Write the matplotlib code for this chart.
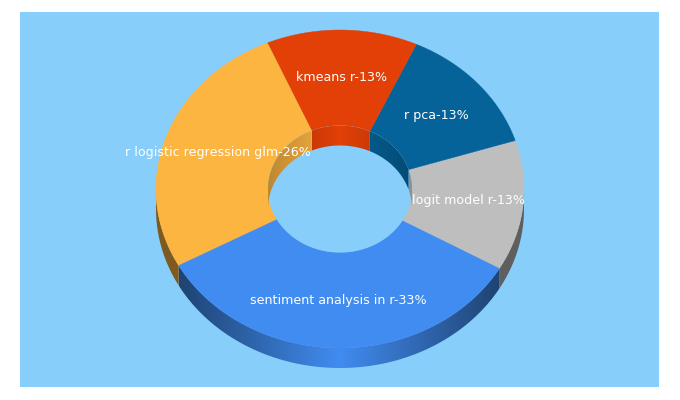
import matplotlib
matplotlib.use('Agg')
import matplotlib.pyplot as plt
from matplotlib.colors import to_rgb
from matplotlib.patches import Polygon
import numpy as np

# Donnees du graphique
labels = ['logit model r', 'r pca', 'kmeans r', 'r logistic regression glm', 'sentiment analysis in r']
values = [13, 13, 13, 26, 33]
colors = ['#bebebe', '#056399', '#e24007', '#fdb542', '#418cf0']

# Geometrie de l'anneau, en pixels
cx, cy = 340, 189
rx, ry = 184, 159
rx_in, ry_in = 72, 63.5
depth = 20
start = -30


def pt(a, rxx, ryy):
    a = np.radians(a)
    return cx + rxx * np.cos(a), cy - ryy * np.sin(a)


# Dessine un flanc avec un degrade horizontal, coupe a la forme du flanc
def wall(b0, b1, rxx, ryy, col, shade_fn, z):
    steps = np.linspace(b0, b1, 120)
    x, y = pt(steps, rxx, ryy)
    px = np.r_[x, x[::-1]]
    py = np.r_[y, y[::-1] + depth]
    grid = np.linspace(px.min(), px.max(), 200)
    f = shade_fn(grid, px.min(), px.max())
    img = np.outer(f, to_rgb(col))[None, :, :]
    im = ax.imshow(img, extent=(px.min(), px.max(), py.max(), py.min()), aspect='auto', zorder=z, interpolation='bilinear')
    im.set_clip_path(Polygon(np.c_[px, py], closed=True, transform=ax.transData))


def outer_shade(g, lo, hi):
    half = (hi - lo) / 2
    if half > 60:
        return 1 - 0.52 * np.abs(g - (lo + hi) / 2) / half
    return np.full_like(g, 0.5)


def inner_shade(g, lo, hi):
    return 1 - 0.25 * np.abs(g - cx) / rx_in


fig = plt.figure(figsize=(6.8, 4.0), dpi=100, facecolor='white')
ax = fig.add_axes([0, 0, 1, 1])
ax.axis('off')
ax.fill([20, 659, 659, 20], [12, 12, 387, 387], color='#87cefa', lw=0, zorder=0)

angles = start + np.cumsum([0] + values) * 360 / sum(values)

for i, col in enumerate(colors):
    a0, a1 = angles[i], angles[i + 1]

    # Flanc exterieur (moitie basse seulement)
    for b0, b1 in [(max(a0, -180), min(a1, 0)), (max(a0, 180), min(a1, 360))]:
        if b1 > b0:
            wall(b0, b1, rx, ry, col, outer_shade, 1)

    # Face du dessus
    steps = np.linspace(a0, a1, 120)
    xo, yo = pt(steps, rx, ry)
    xi, yi = pt(steps[::-1], rx_in, ry_in)
    ax.fill(np.r_[xo, xi], np.r_[yo, yi], color=col, lw=0.3, zorder=2)

# Trou central
t = np.linspace(0, 360, 240)
hx, hy = pt(t, rx_in, ry_in)
ax.fill(hx, hy, color='#87cefa', lw=0, zorder=3)

# Paroi interieure visible (moitie haute du trou)
for i, col in enumerate(colors):
    for shift in (0, 360):
        b0, b1 = max(angles[i], shift), min(angles[i + 1], 180 + shift)
        if b1 > b0:
            wall(b0, b1, rx_in, ry_in, col, inner_shade, 4)

# Etiquettes
for i, lab in enumerate(labels):
    mid = (angles[i] + angles[i + 1]) / 2
    x, y = pt(mid, rx * 0.7, ry * 0.7)
    ax.text(x, y, f'{lab}-{values[i]}%', color='white', fontsize=9.1, ha='center', va='center', zorder=5)

ax.set_xlim(0, 680)
ax.set_ylim(400, 0)
fig.savefig('out.png', dpi=100, facecolor='white')
